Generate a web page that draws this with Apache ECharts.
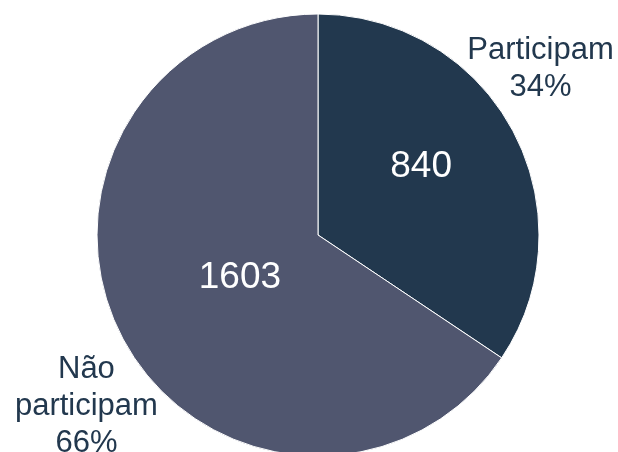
<!DOCTYPE html>
<html>
<head>
<meta charset="utf-8">
<script src="https://cdn.jsdelivr.net/npm/echarts@6/dist/echarts.min.js"></script>
<style>
  html, body { margin: 0; padding: 0; background: #fff; }
  #chart { width: 618px; height: 452px; }
</style>
</head>
<body>
<div id="chart"></div>
<script>
const categories = ['Participam', 'Não participam']
const labelNames = ['Participam', 'Não\nparticipam']
const values = [840, 1603]
const colors = ['#22384e', '#50566f']

// label nudges (px) so they sit where the original has them
const innerShift = [[3, -15], [22, -11]]
const outerShift = [[-80, -53], [71, 58]]

const textColor = '#22384e'
const font = 'Liberation Sans'

const myChart = echarts.init(document.getElementById('chart'))
const total = values.reduce((a, b) => a + b, 0)
const data = categories.map((name, i) => ({
  name: name,
  value: values[i],
  itemStyle: { color: colors[i] }
}))

const option = {
  animation: false,
  series: [{
    type: 'pie',
    center: [318, 235],
    radius: 221,
    startAngle: 90,
    silent: true,
    data: data,
    itemStyle: {
      borderColor: '#fff',
      borderWidth: 1
    },
    label: {
      show: true,
      position: 'outside',
      alignTo: 'none',
      width: 170,
      overflow: 'none',
      formatter(p) {
        const pct = Math.round(values[p.dataIndex] / total * 100)
        return labelNames[p.dataIndex].split('\n').map(s => '{t|' + s + '}').join('\n') + '\n{t|' + pct + '%}'
      },
      rich: {
        t: {
          width: 170,
          align: 'center',
          fontFamily: font,
          fontSize: 31,
          lineHeight: 37,
          color: textColor
        }
      }
    },
    labelLine: { show: false, length: 20, length2: 0 },
    labelLayout(params) {
      const s = outerShift[params.dataIndex]
      return { dx: s[0], dy: s[1] }
    }
  }, {
    type: 'pie',
    center: [318, 235],
    radius: 221,
    startAngle: 90,
    silent: true,
    data: data.map(d => ({ name: d.name, value: d.value, itemStyle: { color: 'transparent' } })),
    label: {
      show: true,
      position: 'inside',
      formatter: '{c}',
      fontFamily: font,
      fontSize: 37,
      color: '#fff'
    },
    labelLine: { show: false },
    labelLayout(params) {
      const s = innerShift[params.dataIndex]
      return { dx: s[0], dy: s[1] }
    }
  }]
}
myChart.setOption(option)
</script>
</body>
</html>
